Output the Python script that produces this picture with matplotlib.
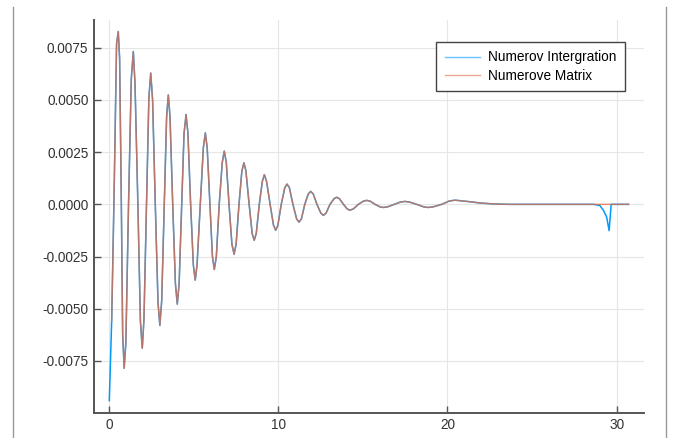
import matplotlib
matplotlib.use("Agg")
import matplotlib.pyplot as plt
from matplotlib.lines import Line2D

# wavefunction values (shared by both methods)
x_wave = [0.14, 0.29, 0.43, 0.53, 0.61, 0.71, 0.79, 0.88, 0.98, 1.14, 1.30, 1.42, 1.52,
          1.69, 1.84, 1.95, 2.05, 2.20, 2.34, 2.45, 2.56, 2.72, 2.88, 2.99, 3.10, 3.25,
          3.39, 3.49, 3.59, 3.75, 3.91, 4.02, 4.13, 4.28, 4.42, 4.54, 4.65, 4.81, 4.97,
          5.08, 5.19, 5.38, 5.56, 5.68, 5.79, 5.95, 6.10, 6.21, 6.33, 6.50, 6.68, 6.80,
          6.92, 7.08, 7.25, 7.38, 7.50, 7.67, 7.84, 7.96, 8.08, 8.27, 8.45, 8.57, 8.69,
          8.87, 9.05, 9.17, 9.30, 9.51, 9.71, 9.84, 9.97, 10.17, 10.38, 10.51, 10.65,
          10.86, 11.08, 11.22, 11.36, 11.56, 11.77, 11.91, 12.06, 12.28, 12.51, 12.66,
          12.82, 13.05, 13.29, 13.45, 13.61, 13.85, 14.07, 14.23, 14.43, 14.73, 15.02,
          15.22, 15.43, 15.72, 16.01, 16.21, 16.46, 16.85, 17.22, 17.49, 17.75, 18.18,
          18.59, 18.87, 19.15, 19.66, 20.11, 20.45, 20.82, 21.38, 21.99, 22.70, 23.61]
psi_wave = [-0.0056, 0.0008, 0.0077, 0.00828, 0.0070, 0.0002, -0.0062, -0.00785, -0.0066,
            0.0001, 0.0060, 0.00732, 0.0058, 0.0000, -0.0056, -0.00689, -0.0055, 0.0000,
            0.0051, 0.00629, 0.0050, 0.0000, -0.0047, -0.0058, -0.0046, 0.0000, 0.0042,
            0.00524, 0.0042, 0.0000, -0.0038, -0.00478, -0.0038, 0.0000, 0.0034, 0.0043,
            0.0034, 0.0000, -0.0029, -0.00363, -0.0029, 0.0000, 0.0027, 0.00342, 0.0027,
            0.0000, -0.0025, -0.00312, -0.0025, 0.0000, 0.0020, 0.00255, 0.0020, 0.0000,
            -0.0019, -0.00239, -0.0019, 0.0000, 0.0016, 0.00199, 0.0016, 0.0000, -0.0014,
            -0.00172, -0.0014, 0.0000, 0.0011, 0.00142, 0.0011, 0.0000, -0.0010, -0.00124,
            -0.0010, 0.0000, 0.0008, 0.00097, 0.0008, 0.0000, -0.0007, -0.00085, -0.0007,
            0.0000, 0.0005, 0.00062, 0.0005, 0.0000, -0.00042, -0.00053, -0.00042, 0.0000,
            0.00027, 0.00034, 0.00027, 0.0000, -0.00022, -0.00028, -0.00022, 0.0000,
            0.00015, 0.00019, 0.00015, 0.0000, -0.00012, -0.00015, -0.00012, 0.0000,
            0.00011, 0.00014, 0.00011, 0.0000, -0.00012, -0.00015, -0.00012, 0.0000,
            0.00016, 0.0002, 0.00017, 0.00012, 0.00006, 0.00002, 0.0]

# integration: extra boundary point at x=0 and the blow-up near the far end
x_int_start = [0.0]
psi_int_start = [-0.0094]
x_int_end = [28.62, 29.0, 29.21, 29.41, 29.56, 29.68, 30.71]
psi_int_end = [0.0, -0.00005, -0.00027, -0.0006, -0.00126, 0.0, 0.0]

# matrix method just goes flat to the end
x_mat_end = [30.71]
psi_mat_end = [0.0]

x_int = x_int_start + x_wave + x_int_end
psi_int = psi_int_start + psi_wave + psi_int_end
x_mat = x_wave + x_mat_end
psi_mat = psi_wave + psi_mat_end

plt.rcParams['font.family'] = ['Liberation Sans', 'DejaVu Sans']

fig = plt.figure(figsize=(6.83, 4.38), dpi=100)
ax = fig.add_axes([94 / 683, 1 - 412.7 / 438, 550.3 / 683, 392.7 / 438])

ax.plot(x_int, psi_int, color='#009AFA', lw=1.1, label='Numerov Intergration')
ax.plot(x_mat, psi_mat, color='#E36F47', lw=1.0, alpha=0.8, label='Numerove Matrix')

ax.set_xlim(-0.905, 31.64)
ax.set_ylim(-0.00998, 0.00883)
ax.set_xticks([0, 10, 20, 30])
ax.set_yticks([-0.0075, -0.005, -0.0025, 0.0, 0.0025, 0.005, 0.0075])
ax.yaxis.set_major_formatter(plt.FormatStrFormatter('%.4f'))

ax.grid(True, color='#e6e6e6', lw=0.8)
ax.set_axisbelow(True)
for side in ['top', 'right']:
    ax.spines[side].set_visible(False)
for side in ['left', 'bottom']:
    ax.spines[side].set_color('#555555')
    ax.spines[side].set_linewidth(1.4)
ax.tick_params(direction='in', length=5, width=1, color='#555555',
               labelsize=9.8, labelcolor='#333333', pad=4)

leg = ax.legend(loc='upper right', bbox_to_anchor=(0.965, 0.945), borderaxespad=0,
                fontsize=9.8, fancybox=False, framealpha=1, edgecolor='#444444',
                handlelength=2.6, handletextpad=0.55, borderpad=0.65, labelspacing=0.3)
leg.get_frame().set_linewidth(1.0)
for h in leg.get_lines():
    h.set_linewidth(1.0)
    h.set_alpha(0.6)

# outer frame of the screenshot
fig.add_artist(Line2D([13.3 / 683, 13.3 / 683], [0, 1 - 7 / 438], color='#999999', lw=1))
fig.add_artist(Line2D([665.7 / 683, 665.7 / 683], [0, 1 - 7 / 438], color='#999999', lw=1))

fig.savefig('out.png', dpi=100)
